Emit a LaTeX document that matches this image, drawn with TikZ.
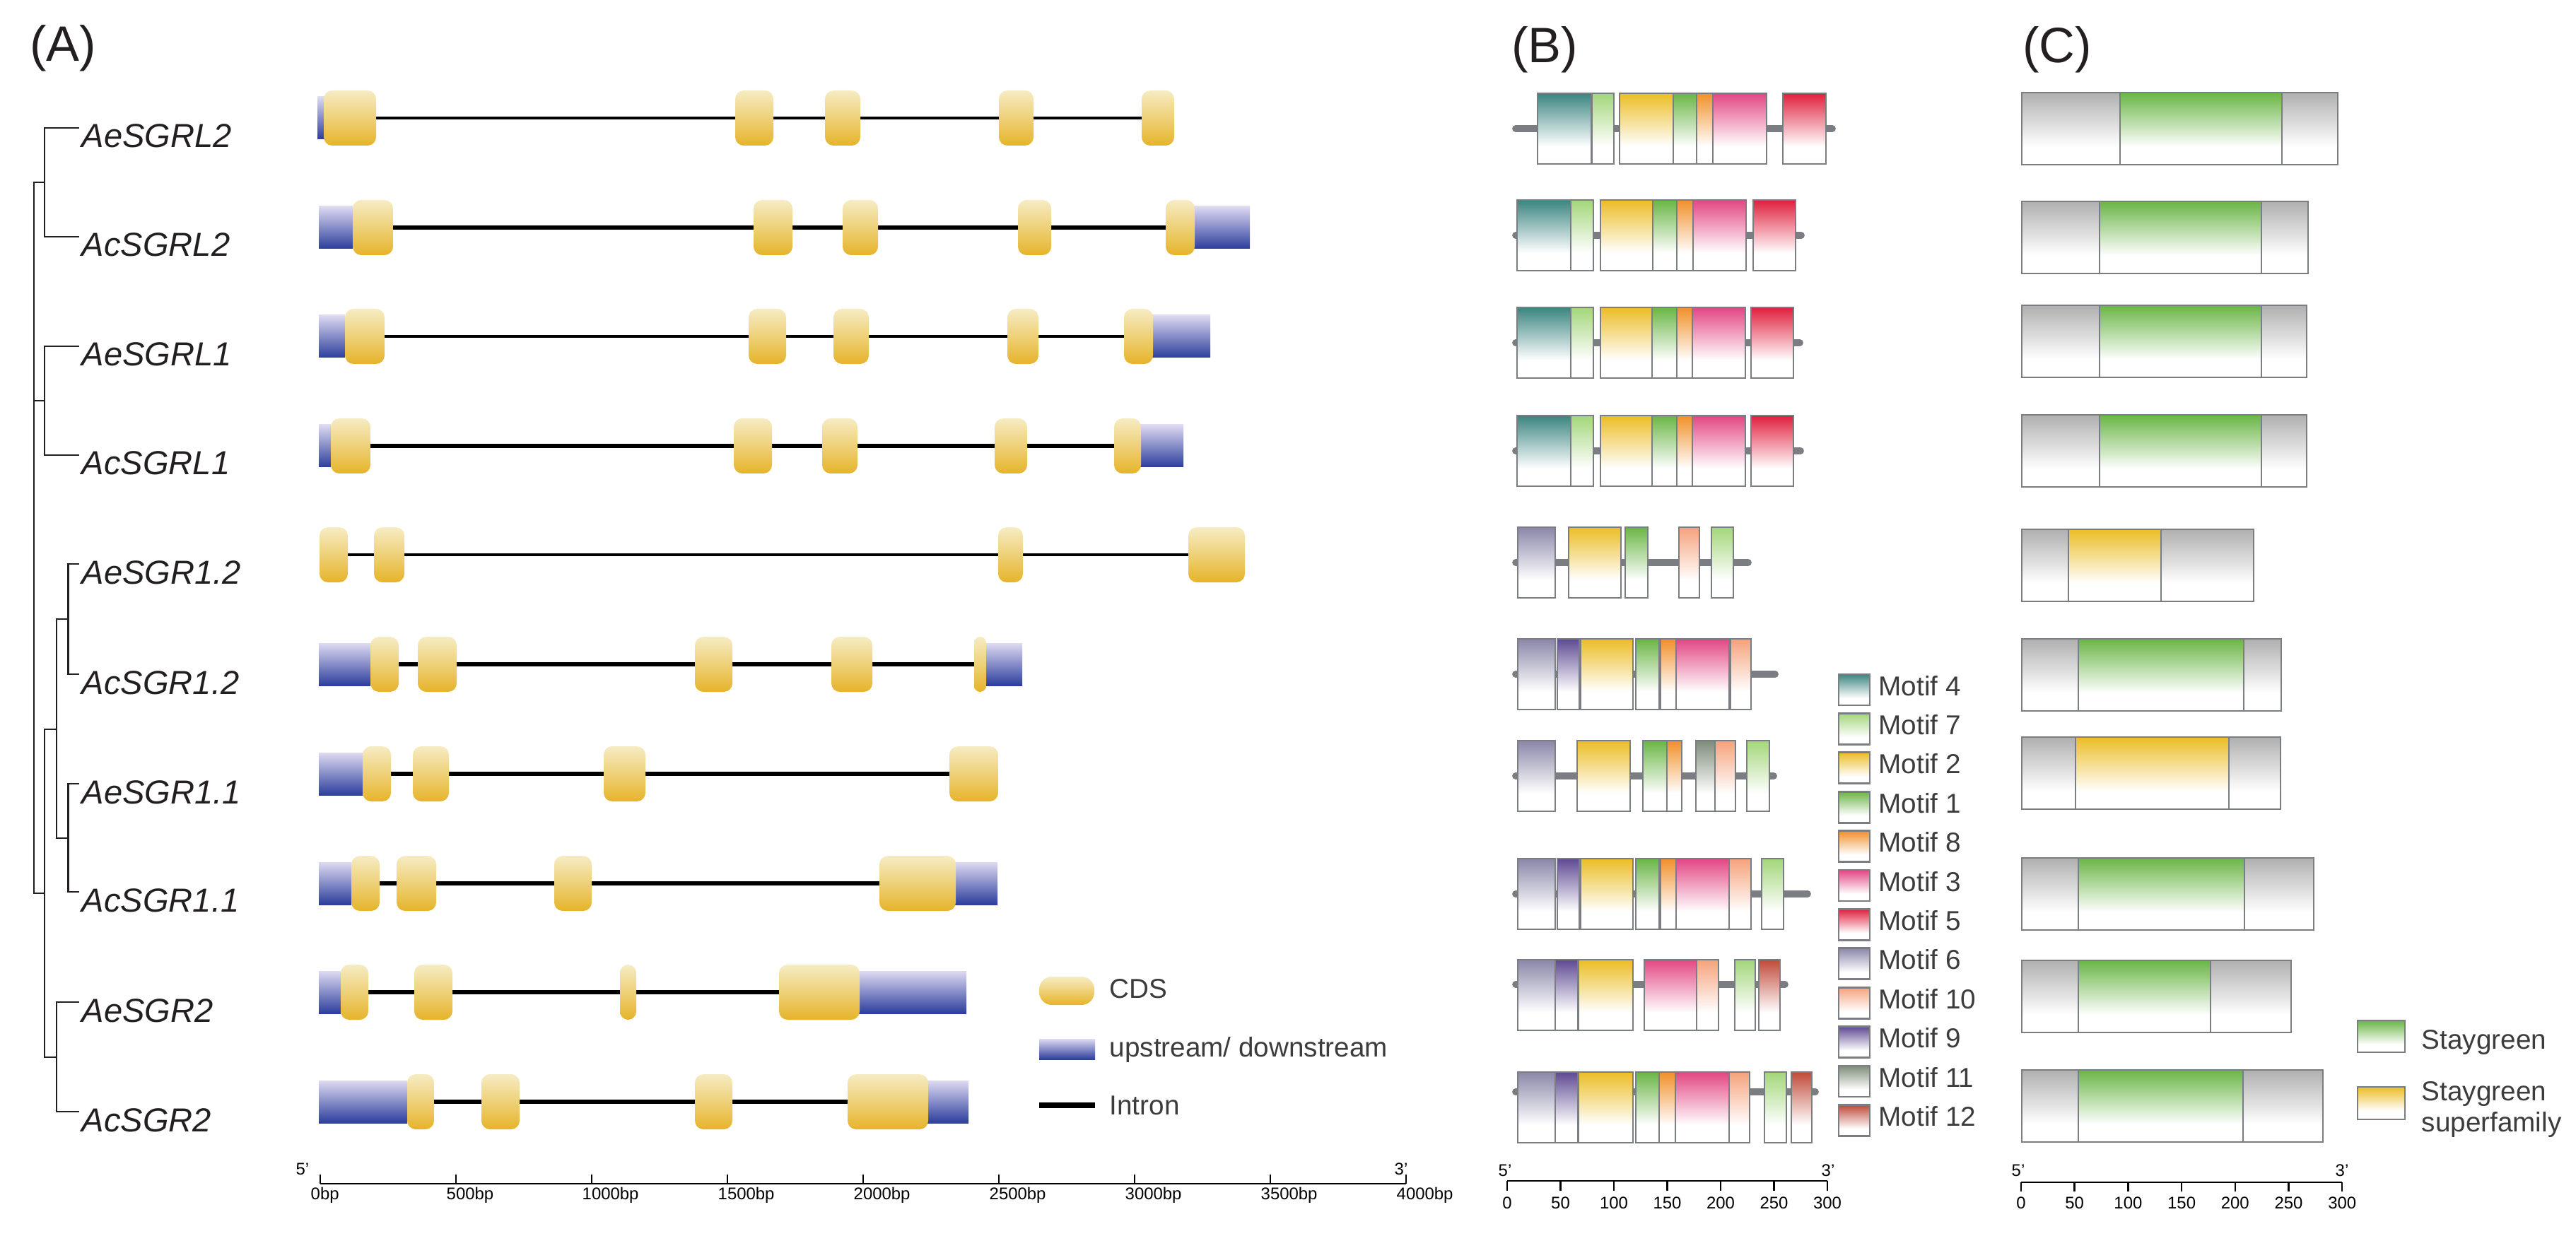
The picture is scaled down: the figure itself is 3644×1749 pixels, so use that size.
\documentclass[tikz,border=0pt]{standalone}
\usepackage{fontspec}
\setmainfont{Liberation Sans}
\usepackage{tikz}
\usetikzlibrary{positioning}

\definecolor{txtdark}{RGB}{35,31,32}
\definecolor{txtmid}{RGB}{60,60,60}
\definecolor{exonlight}{RGB}{246,236,196}
\definecolor{exonmid}{RGB}{238,206,104}
\definecolor{exondark}{RGB}{230,180,42}
\definecolor{utrlight}{RGB}{222,218,242}
\definecolor{utrmid}{RGB}{72,84,172}
\definecolor{utrdark}{RGB}{44,62,156}
\definecolor{boxgrey}{RGB}{122,125,130}
\definecolor{domgrey}{RGB}{176,176,176}
\definecolor{mot4}{RGB}{58,133,128}
\definecolor{mot7}{RGB}{163,214,122}
\definecolor{mot2}{RGB}{235,189,37}
\definecolor{mot1}{RGB}{106,181,69}
\definecolor{mot8}{RGB}{240,144,42}
\definecolor{mot3}{RGB}{226,70,131}
\definecolor{mot5}{RGB}{224,31,61}
\definecolor{mot6}{RGB}{138,135,168}
\definecolor{mot10}{RGB}{245,162,124}
\definecolor{mot9}{RGB}{94,74,146}
\definecolor{mot11}{RGB}{126,140,122}
\definecolor{mot12}{RGB}{192,74,58}

\tikzset{
  intron/.style={line width=1.6pt, black},
  thinintron/.style={line width=1.1pt, black},
  branch/.style={line width=0.7pt, txtdark},
  backbone/.style={line width=2.8pt, boxgrey, line cap=round},
  boxline/.style={line width=0.8pt, boxgrey},
  axisline/.style={line width=0.7pt, black},
  genename/.style={font=\fontsize{13.4}{16}\selectfont\itshape, text=txtdark, inner sep=0pt, anchor=base west},
  panel/.style={font=\fontsize{20}{24}\selectfont, text=txtdark},
  legtext/.style={font=\fontsize{11}{12.8}\selectfont, text=txtmid, inner sep=0pt, anchor=base west},
  ticklabel/.style={font=\fontsize{6.8}{8}\selectfont, inner sep=0pt}
}

% x1, x2, y
\newcommand{\cdsbox}[3]{%
  \pgfmathsetmacro{\cdsrad}{min(0.12,(#2-#1)/200)}%
  \shade[top color=exonlight, middle color=exonmid, bottom color=exondark,
    rounded corners=\cdsrad cm] (#1,#3-39) rectangle (#2,#3+39);}
\newcommand{\utrbox}[3]{%
  \shade[top color=utrlight, middle color=utrmid, bottom color=utrdark]
    (#1,#3-30) rectangle (#2,#3+30);}
% x1, x2, y, colour
\newcommand{\motifbox}[4]{%
  \fill[white] (#1,#3-50) rectangle (#2,#3+50);
  \shade[top color=#4, bottom color=white] (#1,#3-50) rectangle (#2,#3+25);
  \draw[boxline] (#1,#3-50) rectangle (#2,#3+50);}
% x1, x2, y, domain x1, domain x2, colour
\newcommand{\protbox}[6]{%
  \fill[white] (#1,#3-51) rectangle (#2,#3+51);
  \shade[top color=domgrey, bottom color=white] (#1,#3-51) rectangle (#2,#3+26);
  \shade[top color=#6, bottom color=white] (#4,#3-51) rectangle (#5,#3+26);
  \draw[boxline] (#1,#3-51) rectangle (#2,#3+51)
    (#4,#3-51) -- (#4,#3+51) (#5,#3-51) -- (#5,#3+51);}

\begin{document}
\begin{tikzpicture}[x=0.01cm, y=-0.01cm]
  \useasboundingbox (0,0) rectangle (3644,1749);

  \node[panel] (pA) at (89,68) {(A)};
  \node[panel] (pB) at (2185,70) {(B)};
  \node[panel] (pC) at (2910,70) {(C)};

  % tree
  \foreach \yy [count=\i] in {181,335,490,644,798,954,1109,1262,1418,1573}
    \coordinate (t\i) at (112,\yy);
  \coordinate (nL2) at (63,258);
  \coordinate (nL1) at (63,567);
  \coordinate (nRoot) at (48,760);
  \coordinate (nSGR) at (63,1264);
  \coordinate (nSGR1) at (80,1032);
  \coordinate (nSGR2) at (80,1496);
  \coordinate (n12) at (96.5,876);
  \coordinate (n11) at (96.5,1186);

  \draw[branch] (t1) -| (nL2) |- (t2);
  \draw[branch] (t3) -| (nL1) |- (t4);
  \draw[branch] (nL2) -| (nRoot) |- (nSGR);
  \draw[branch] (nL1) -- (nL1 -| nRoot);
  \draw[branch] (nSGR1) -| (nSGR) |- (nSGR2);
  \draw[branch] (n12) -| (nSGR1) |- (n11);
  \draw[branch] (t5) -| (n12) |- (t6);
  \draw[branch] (t7) -| (n11) |- (t8);
  \draw[branch] (t9) -| (nSGR2) |- (t10);

  \foreach \g [count=\i] in {AeSGRL2,AcSGRL2,AeSGRL1,AcSGRL1,AeSGR1.2,AcSGR1.2,AeSGR1.1,AcSGR1.1,AeSGR2,AcSGR2}
    \node[genename] (g\i) at ([shift={(3,28)}]t\i) {\g};

  % (A) gene structures
  \draw[thinintron] (449,167) -- (1661,167);
  \utrbox{449}{460}{167}
  \foreach \p/\q in {458/532,1040/1094,1167/1217,1413/1462,1615/1661} {\cdsbox{\p}{\q}{167}}

  \draw[intron] (451,322) -- (1768,322);
  \foreach \p/\q in {451/499,1688/1768} {\utrbox{\p}{\q}{322}}
  \foreach \p/\q in {499/556,1066/1121,1192/1242,1440/1487,1649/1690} {\cdsbox{\p}{\q}{322}}

  \draw[thinintron] (451,476) -- (1712,476);
  \foreach \p/\q in {451/488,1629/1712} {\utrbox{\p}{\q}{476}}
  \foreach \p/\q in {488/544,1059/1112,1179/1229,1425/1469,1590/1631} {\cdsbox{\p}{\q}{476}}

  \draw[intron] (451,631) -- (1674,631);
  \foreach \p/\q in {451/468,1612/1674} {\utrbox{\p}{\q}{631}}
  \foreach \p/\q in {468/524,1038/1092,1163/1213,1407/1453,1576/1614} {\cdsbox{\p}{\q}{631}}

  \draw[thinintron] (452,785) -- (1761,785);
  \foreach \p/\q in {452/492,529/572,1412/1447,1681/1761} {\cdsbox{\p}{\q}{785}}

  \draw[intron] (451,940) -- (1446,940);
  \foreach \p/\q in {451/524,1393/1446} {\utrbox{\p}{\q}{940}}
  \foreach \p/\q in {524/564,591/646,983/1036,1176/1234,1378/1395} {\cdsbox{\p}{\q}{940}}

  \draw[intron] (451,1095) -- (1412,1095);
  \utrbox{451}{513}{1095}
  \foreach \p/\q in {513/553,584/635,854/913,1343/1412} {\cdsbox{\p}{\q}{1095}}

  \draw[intron] (451,1250) -- (1411,1250);
  \foreach \p/\q in {451/497,1350/1411} {\utrbox{\p}{\q}{1250}}
  \foreach \p/\q in {497/537,561/617,784/837,1244/1352} {\cdsbox{\p}{\q}{1250}}

  \draw[intron] (451,1404) -- (1367,1404);
  \foreach \p/\q in {451/482,1214/1367} {\utrbox{\p}{\q}{1404}}
  \foreach \p/\q in {482/521,586/640,877/900,1102/1216} {\cdsbox{\p}{\q}{1404}}

  \draw[intron] (451,1559) -- (1370,1559);
  \foreach \p/\q in {451/576,1311/1370} {\utrbox{\p}{\q}{1559}}
  \foreach \p/\q in {576/614,681/735,983/1036,1199/1313} {\cdsbox{\p}{\q}{1559}}

  % (A) legend
  \shade[top color=exonlight, middle color=exonmid, bottom color=exondark, rounded corners=0.18cm]
    (1470,1382) rectangle (1548,1422);
  \shade[top color=utrlight, middle color=utrmid, bottom color=utrdark] (1470,1470) rectangle (1549,1499);
  \draw[intron, line width=2pt] (1470,1564) -- (1549,1564);
  \node[legtext] (lgCDS) at (1569,1412) {CDS};
  \node[legtext] (lgUTR) at (1569,1495) {upstream/ downstream};
  \node[legtext] (lgIntron) at (1569,1577) {Intron};

  % (A) axis
  \draw[axisline] (453,1675) -- (1989,1675);
  \foreach \k in {0,...,8} {
    \draw[axisline] (453+192*\k,1675) -- (453+192*\k,1662);
    \pgfmathtruncatemacro{\bp}{500*\k}
    \node[ticklabel, anchor=west] (ax\k) at (439+192*\k,1691) {\bp bp};
  }
  \node[ticklabel] (ax5p) at (428,1654) {5'};
  \node[ticklabel] (ax3p) at (1982,1654) {3'};

  % (B) motifs
  \draw[backbone] (2144,182) -- (2592,182);
  \foreach \p/\q/\c in {2175/2251/mot4,2252/2283/mot7,2291/2367/mot2,2367/2400/mot1,2400/2423/mot8,2423/2499/mot3,2522/2583/mot5} {\motifbox{\p}{\q}{182}{\c}}
  \draw[backbone] (2144,333) -- (2548,333);
  \foreach \p/\q/\c in {2146/2222/mot4,2222/2254/mot7,2264/2338/mot2,2338/2372/mot1,2372/2395/mot8,2395/2470/mot3,2480/2540/mot5} {\motifbox{\p}{\q}{333}{\c}}
  \draw[backbone] (2144,485) -- (2546,485);
  \foreach \p/\q/\c in {2146/2222/mot4,2222/2254/mot7,2264/2337/mot2,2337/2372/mot1,2372/2394/mot8,2394/2469/mot3,2477/2537/mot5} {\motifbox{\p}{\q}{485}{\c}}
  \draw[backbone] (2144,638) -- (2547,638);
  \foreach \p/\q/\c in {2146/2222/mot4,2222/2254/mot7,2264/2337/mot2,2337/2372/mot1,2372/2394/mot8,2394/2469/mot3,2477/2537/mot5} {\motifbox{\p}{\q}{638}{\c}}
  \draw[backbone] (2144,796) -- (2473,796);
  \foreach \p/\q/\c in {2147/2200/mot6,2219/2293/mot2,2299/2331/mot1,2375/2404/mot10,2421/2452/mot7} {\motifbox{\p}{\q}{796}{\c}}
  \draw[backbone] (2144,954) -- (2511,954);
  \foreach \p/\q/\c in {2147/2200/mot6,2203/2234/mot9,2236/2310/mot2,2314/2347/mot1,2349/2371/mot8,2371/2446/mot3,2448/2477/mot10} {\motifbox{\p}{\q}{954}{\c}}
  \draw[backbone] (2144,1098) -- (2509,1098);
  \foreach \p/\q/\c in {2147/2200/mot6,2231/2306/mot2,2324/2358/mot1,2358/2379/mot8,2399/2426/mot11,2426/2455/mot10,2471/2503/mot7} {\motifbox{\p}{\q}{1098}{\c}}
  \draw[backbone] (2144,1265) -- (2557,1265);
  \foreach \p/\q/\c in {2147/2200/mot6,2203/2234/mot9,2236/2310/mot2,2314/2347/mot1,2349/2371/mot8,2371/2446/mot3,2446/2477/mot10,2492/2523/mot7} {\motifbox{\p}{\q}{1265}{\c}}
  \draw[backbone] (2144,1393) -- (2525,1393);
  \foreach \p/\q/\c in {2147/2200/mot6,2200/2232/mot9,2233/2310/mot2,2326/2400/mot3,2400/2431/mot10,2454/2483/mot7,2488/2518/mot12} {\motifbox{\p}{\q}{1408}{\c}}
  \draw[backbone] (2144,1545) -- (2568,1545);
  \foreach \p/\q/\c in {2147/2200/mot6,2200/2232/mot9,2233/2310/mot2,2314/2347/mot1,2347/2370/mot8,2370/2446/mot3,2446/2475/mot10,2496/2527/mot7,2534/2563/mot12} {\motifbox{\p}{\q}{1567}{\c}}

  % (B) legend
  \foreach \m [count=\i from 0] in {4,7,2,1,8,3,5,6,10,9,11,12} {
    \pgfmathsetmacro{\yy}{976+55.4*\i}
    \fill[white] (2601,\yy-22) rectangle (2645,\yy+22);
    \shade[top color=mot\m, bottom color=white] (2601,\yy-22) rectangle (2645,\yy+12);
    \draw[boxline] (2601,\yy-22) rectangle (2645,\yy+22);
    \node[legtext] (lgm\m) at (2657,\yy+8) {Motif \m};
  }

  % (B) axis
  \draw[axisline] (2132,1671) -- (2585,1671);
  \foreach \k in {0,...,6} {
    \draw[axisline] (2132+75.5*\k,1671) -- (2132+75.5*\k,1685);
    \pgfmathtruncatemacro{\aa}{50*\k}
    \node[ticklabel] (bx\k) at (2132+75.5*\k,1702) {\aa};
  }
  \node[ticklabel] (bx5p) at (2129,1656) {5'};
  \node[ticklabel] (bx3p) at (2586,1656) {3'};

  % (C) domains
  \foreach \y/\e/\a/\b/\c in {182/3307/2999/3228/mot1,336/3265/2970/3199/mot1,483/3263/2970/3199/mot1,
      638/3263/2970/3199/mot1,800/3188/2926/3057/mot2,955/3227/2940/3174/mot1,1094/3226/2936/3153/mot2,
      1265/3273/2940/3175/mot1,1410/3241/2940/3127/mot1,1565/3286/2940/3173/mot1}
    {\protbox{2860}{\e}{\y}{\a}{\b}{\c}}

  % (C) legend
  \fill[white] (3335,1444) rectangle (3402,1489);
  \shade[top color=mot1, bottom color=white] (3335,1444) rectangle (3402,1478);
  \draw[boxline] (3335,1444) rectangle (3402,1489);
  \fill[white] (3335,1538) rectangle (3402,1584);
  \shade[top color=mot2, bottom color=white] (3335,1538) rectangle (3402,1572);
  \draw[boxline] (3335,1538) rectangle (3402,1584);
  \node[legtext] (lgSg) at (3425,1484) {Staygreen};
  \node[legtext] (lgSf) at (3425,1557) {Staygreen};
  \node[legtext] (lgSf2) at (3425,1601) {superfamily};

  % (C) axis
  \draw[axisline] (2859,1673) -- (3313,1673);
  \foreach \k in {0,...,6} {
    \draw[axisline] (2859+75.7*\k,1673) -- (2859+75.7*\k,1686);
    \pgfmathtruncatemacro{\aa}{50*\k}
    \node[ticklabel] (cx\k) at (2859+75.7*\k,1702) {\aa};
  }
  \node[ticklabel] (cx5p) at (2855,1656) {5'};
  \node[ticklabel] (cx3p) at (3313,1656) {3'};
\end{tikzpicture}
\end{document}
